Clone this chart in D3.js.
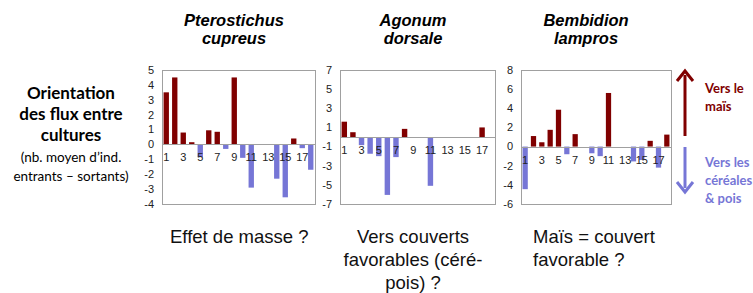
<!DOCTYPE html>
<html>
<head>
<meta charset="utf-8">
<script src="https://cdn.jsdelivr.net/npm/d3@7"></script>
<style>
  body { margin: 0; background: #fff; }
  svg { display: block; }
</style>
</head>
<body>
<svg id="chart" width="753" height="293"></svg>
<script>
// data
const sites = [1, 2, 3, 4, 5, 6, 7, 8, 9, 10, 11, 12, 13, 14, 15, 16, 17, 18]
const siteLabels = [1, 3, 5, 7, 9, 11, 13, 15, 17]
const pterostichus = [3.5, 4.5, 0.8, 0.15, -0.85, 0.95, 0.85, -0.3, 4.5, -0.9, -2.9, 0, 0, -2.3, -3.55, 0.4, -0.25, -1.7]
const agonum = [1.6, 0.5, -0.85, -1.75, -2.0, -6.05, -2.1, 0.85, 0, 0, -5.1, 0, 0, 0, 0, 0, 1.0, 0]
const bembidion = [-4.45, 1.1, 0.45, 1.75, 3.85, -0.8, 1.3, 0, -0.7, -1.0, 5.6, 0, 0, -1.55, -1.4, 0.6, -2.2, 1.25]
const ticksPc = [5, 4, 3, 2, 1, 0, -1, -2, -3, -4]
const ticksAd = [7, 5, 3, 1, -1, -3, -5, -7]
const ticksBl = [8, 6, 4, 2, 0, -2, -4, -6]

const RED = '#800000'
const BLUE = '#7676d6'
const svg = d3.select('#chart')

const panels = [
  { values: pterostichus, ticks: ticksPc, dom: [-4, 5], x0: 162, x1: 315, title: ['Pterostichus', 'cupreus'], tx: 234,
    note: ['Effet de masse ?'], nx: 170, anchor: 'start' },
  { values: agonum, ticks: ticksAd, dom: [-7, 7], x0: 340, x1: 495, title: ['Agonum', 'dorsale'], tx: 413,
    note: ['Vers couverts', 'favorables (céré-', 'pois) ?'], nx: 413, anchor: 'middle' },
  { values: bembidion, ticks: ticksBl, dom: [-6, 8], x0: 521, x1: 671, title: ['Bembidion', 'lampros'], tx: 586,
    note: ['Maïs = couvert', 'favorable ?'], nx: 533, anchor: 'start' }
]

panels.forEach(p => {
  const top = 70, bottom = 204
  const x = d3.scaleBand().domain(sites).range([p.x0, p.x1]).paddingInner(0.37).paddingOuter(0.185)
  const y = d3.scaleLinear().domain(p.dom).range([bottom, top])
  const g = svg.append('g')

  g.append('rect')
    .attr('x', p.x0 + 0.5).attr('y', top + 0.5)
    .attr('width', p.x1 - p.x0).attr('height', bottom - top)
    .attr('fill', 'none').attr('stroke', '#a0a0a0')

  g.selectAll('rect.bar')
    .data(p.values)
    .join('rect')
    .attr('class', 'bar')
    .attr('x', (d, i) => x(sites[i]))
    .attr('width', x.bandwidth())
    .attr('y', d => y(Math.max(0, d)))
    .attr('height', d => Math.abs(y(d) - y(0)))
    .attr('fill', d => d >= 0 ? RED : BLUE)

  g.append('line')
    .attr('x1', p.x0).attr('x2', p.x1 + 1)
    .attr('y1', Math.round(y(0)) + 0.5).attr('y2', Math.round(y(0)) + 0.5)
    .attr('stroke', '#a0a0a0')

  // y tick labels
  g.selectAll('text.yt')
    .data(p.ticks)
    .join('text')
    .attr('class', 'yt')
    .attr('x', p.x0 - 8)
    .attr('y', d => y(d))
    .attr('dy', '0.35em')
    .attr('text-anchor', 'end')
    .attr('font-family', 'Liberation Sans, Arial, sans-serif')
    .attr('font-size', 11)
    .attr('fill', '#222')
    .text(d => d)

  // x category labels next to zero line
  g.selectAll('text.xt')
    .data(siteLabels)
    .join('text')
    .attr('class', 'xt')
    .attr('x', d => x(d) + x.bandwidth() / 2)
    .attr('y', y(0) + 17)
    .attr('text-anchor', 'middle')
    .attr('font-family', 'Liberation Sans, Arial, sans-serif')
    .attr('font-size', 11)
    .attr('fill', '#222')
    .text(d => d)

  // species title
  p.title.forEach((t, i) => {
    g.append('text')
      .attr('x', p.tx).attr('y', 26 + i * 17.5)
      .attr('text-anchor', 'middle')
      .attr('font-family', 'Liberation Sans, Arial, sans-serif')
      .attr('font-weight', 'bold').attr('font-style', 'italic')
      .attr('font-size', 16.5)
      .text(t)
  })

  // interpretation underneath
  p.note.forEach((t, i) => {
    g.append('text')
      .attr('x', p.nx).attr('y', 243 + i * 23)
      .attr('text-anchor', p.anchor)
      .attr('font-family', 'Liberation Sans, Arial, sans-serif')
      .attr('font-size', 18.5)
      .attr('fill', '#111')
      .text(t)
  })
})

// left caption
const left = [
  { t: 'Orientation', y: 99, s: 17, w: 'bold' },
  { t: 'des flux entre', y: 120, s: 17, w: 'bold' },
  { t: 'cultures', y: 141, s: 17, w: 'bold' },
  { t: '(nb. moyen d’ind.', y: 162, s: 13.5, w: 'normal' },
  { t: 'entrants – sortants)', y: 181, s: 13.5, w: 'normal' }
]
svg.selectAll('text.lc')
  .data(left)
  .join('text')
  .attr('class', 'lc')
  .attr('x', 71).attr('y', d => d.y)
  .attr('text-anchor', 'middle')
  .attr('font-family', 'Lato, Open Sans, sans-serif')
  .attr('font-size', d => d.s)
  .attr('font-weight', d => d.w)
  .text(d => d.t)

// direction arrows on the right
function arrow (xc, ya, yb, color) {
  const dir = yb > ya ? 1 : -1 // head at yb
  svg.append('line')
    .attr('x1', xc).attr('x2', xc)
    .attr('y1', ya).attr('y2', yb - dir * 4)
    .attr('stroke', color).attr('stroke-width', 3)
  svg.append('path')
    .attr('d', `M${xc - 8},${yb - dir * 10} L${xc},${yb} L${xc + 8},${yb - dir * 10}`)
    .attr('fill', 'none').attr('stroke', color).attr('stroke-width', 3)
}
arrow(685, 136, 71, RED)
arrow(685, 147, 192, BLUE)

const legend = [
  { t: 'Vers le', y: 93, c: RED },
  { t: 'maïs', y: 111, c: RED },
  { t: 'Vers les', y: 167, c: BLUE },
  { t: 'céréales', y: 185, c: BLUE },
  { t: '& pois', y: 203, c: BLUE }
]
svg.selectAll('text.lg')
  .data(legend)
  .join('text')
  .attr('class', 'lg')
  .attr('x', 705).attr('y', d => d.y)
  .attr('font-family', 'Lato, Open Sans, sans-serif')
  .attr('font-size', 13)
  .attr('font-weight', 'bold')
  .attr('fill', d => d.c)
  .text(d => d.t)
</script>
</body>
</html>
